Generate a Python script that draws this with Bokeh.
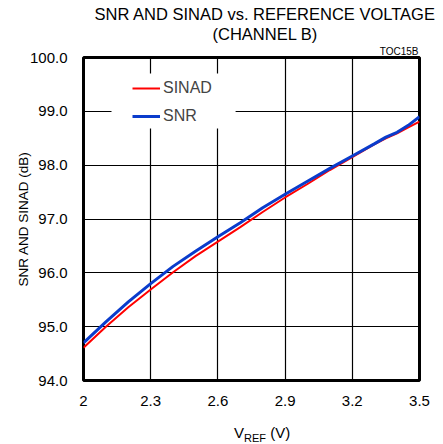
from bokeh.plotting import figure
from bokeh.layouts import column
from bokeh.models import Range1d, FixedTicker, BoxAnnotation, NumeralTickFormatter, Title, Div
from bokeh.embed import file_html
from bokeh.resources import INLINE

# ---- data ----
vref = [2.0, 2.1, 2.2, 2.3, 2.4, 2.5, 2.6, 2.7, 2.8, 2.9, 3.0, 3.1, 3.2, 3.3, 3.35, 3.4, 3.45, 3.5]
snr = [94.70, 95.09, 95.46, 95.80, 96.12, 96.40, 96.67, 96.93, 97.21, 97.46, 97.70, 97.94, 98.17, 98.40, 98.52, 98.61, 98.74, 98.90]
sinad = [94.61, 95.00, 95.36, 95.69, 96.01, 96.31, 96.58, 96.85, 97.13, 97.40, 97.65, 97.91, 98.15, 98.39, 98.50, 98.59, 98.70, 98.81]
x_ticks = [2.0, 2.3, 2.6, 2.9, 3.2, 3.5]
y_ticks = [94, 95, 96, 97, 98, 99, 100]
series_names = ["SINAD", "SNR"]
title_lines = ["SNR AND SINAD vs. REFERENCE VOLTAGE", "(CHANNEL B)"]
figure_tag = "TOC15B"
y_label = "SNR AND SINAD (dB)"

FONT = "Liberation Sans"

p = figure(width=443, height=418, x_range=Range1d(2.0, 3.5), y_range=Range1d(94, 100),
           output_backend="svg", toolbar_location=None,
           min_border_left=83, min_border_right=24, min_border_top=57, min_border_bottom=38)
p.title = None
p.background_fill_color = "white"
p.border_fill_color = "white"
p.outline_line_color = "black"
p.outline_line_width = 3

p.xaxis.ticker = FixedTicker(ticks=x_ticks)
p.yaxis.ticker = FixedTicker(ticks=y_ticks)
p.xaxis.formatter = NumeralTickFormatter(format="0.[0]")
p.yaxis.formatter = NumeralTickFormatter(format="0.0")
for ax in (p.xaxis, p.yaxis):
    ax.axis_line_color = None
    ax.major_tick_line_color = None
    ax.minor_tick_line_color = None
    ax.major_label_text_font = FONT
    ax.major_label_text_font_size = "15px"
    ax.major_label_text_color = "black"
p.xaxis.major_label_standoff = 9
p.yaxis.major_label_standoff = 10

p.yaxis.axis_label = y_label
p.yaxis.axis_label_text_font = FONT
p.yaxis.axis_label_text_font_size = "13.5px"
p.yaxis.axis_label_text_font_style = "normal"
p.yaxis.axis_label_text_color = "black"
p.yaxis.axis_label_standoff = -4

p.grid.grid_line_color = "black"
p.grid.grid_line_width = 1.2

# white background behind the legend (breaks the grid lines like the reference)
p.add_layout(BoxAnnotation(left=2.125, right=2.679, top=99.703, bottom=98.681,
                           fill_color="white", fill_alpha=1.0, line_color=None))

p.line(vref, sinad, line_color="#ff0000", line_width=2, legend_label=series_names[0])
p.line(vref, snr, line_color="#0a3ccc", line_width=3, legend_label=series_names[1])

lg = p.legend[0]
lg.location = (49, 254)
lg.margin = 0
lg.padding = 4
lg.spacing = 8
lg.glyph_width = 28
lg.glyph_height = 20
lg.label_height = 20
lg.label_standoff = 3
lg.label_text_font = FONT
lg.label_text_font_size = "16px"
lg.background_fill_alpha = 0
lg.border_line_color = None

# titles (nearest to the frame first)
p.add_layout(Title(text=figure_tag, align="right", offset=1, standoff=2,
                   text_font=FONT, text_font_size="10px", text_font_style="normal", text_color="black"), "above")
p.add_layout(Title(text=title_lines[1], align="left", offset=129, standoff=0,
                   text_font=FONT, text_font_size="16.5px", text_font_style="normal", text_color="black"), "above")
p.add_layout(Title(text=title_lines[0], align="left", offset=11, standoff=0,
                   text_font=FONT, text_font_size="16.5px", text_font_style="normal", text_color="black"), "above")

xlabel = Div(text='V<sub style="font-size:11px; line-height:0">REF</sub> (V)',
             width=120, height=26, margin=(0, 0, 0, 234),
             styles={"font-family": FONT, "font-size": "15px", "line-height": "17px",
                     "padding-top": "6px", "color": "black"})

layout = column(p, xlabel, spacing=0)
open("out.html", "w").write(file_html(layout, INLINE))
